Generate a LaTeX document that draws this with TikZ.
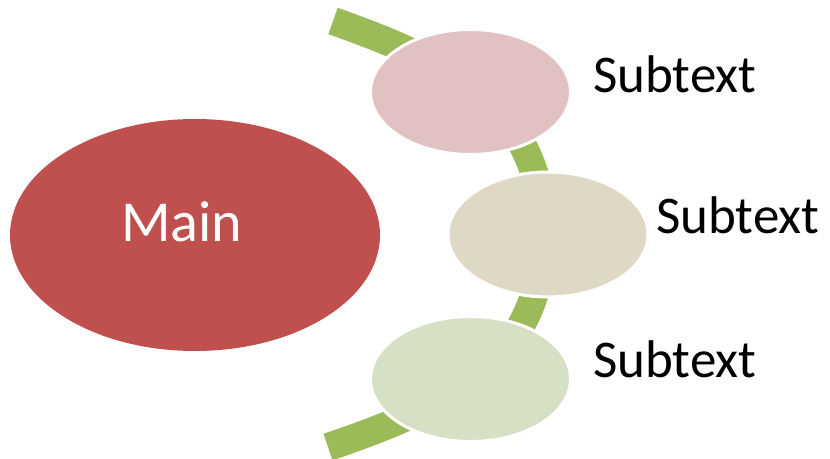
\documentclass[tikz,border=0pt]{standalone}
\usepackage{fontspec}
\setmainfont{Carlito}
\usetikzlibrary{shapes.geometric}
\definecolor{mainred}{HTML}{C0504D}
\definecolor{toppink}{HTML}{E2C1C2}
\definecolor{midtan}{HTML}{DFD8C4}
\definecolor{lowgreen}{HTML}{D6E0C5}
\definecolor{bandgreen}{HTML}{9BBB59}

\begin{document}
\begin{tikzpicture}[x=1pt,y=-1pt]
\tikzset{bubble/.style={ellipse,draw=white,line width=3pt,minimum width=200pt,minimum height=125pt,inner sep=0pt}}
\tikzset{subtxt/.style={anchor=base west,inner sep=0pt,font=\fontsize{53}{62}\selectfont}}
\useasboundingbox (0,0) rectangle (830,458);
% curved band behind the small ovals
\draw[line width=28pt,draw=bandgreen] (333,21) .. controls (453,63) and (543,110) .. (543,234)
    .. controls (543,358) and (453,405) .. (328,447);
\node[ellipse,fill=mainred,minimum width=370pt,minimum height=232pt,inner sep=0pt] (main) at (195,235) {};
\node[anchor=base west,inner sep=0pt,text=white,font=\fontsize{58}{68}\selectfont] (maintxt) at (121,241) {Main};
\node[bubble,fill=toppink] (top) at (470.5,92) {};
\node[bubble,fill=midtan] (mid) at (548,234.5) {};
\node[bubble,fill=lowgreen] (low) at (470.5,379) {};
\node[subtxt] (toptxt) at (593,92) {Subtext};
\node[subtxt] (midtxt) at (656,233) {Subtext};
\node[subtxt] (lowtxt) at (593,377) {Subtext};
\end{tikzpicture}
\end{document}
